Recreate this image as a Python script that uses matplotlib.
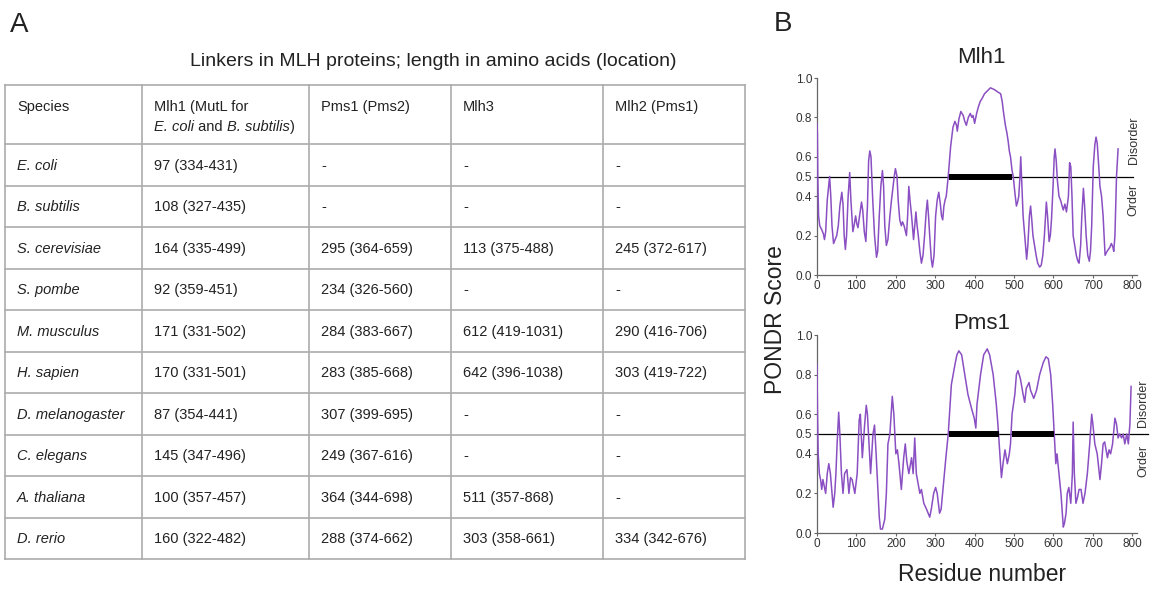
import matplotlib
matplotlib.use("Agg")
import matplotlib.pyplot as plt

plt.rcParams['font.family'] = ['Liberation Sans', 'DejaVu Sans']

# ---------------- data ----------------
table_title = "Linkers in MLH proteins; length in amino acids (location)"
col_headers = ["Species", "Mlh1 (MutL for", "Pms1 (Pms2)", "Mlh3", "Mlh2 (Pms1)"]
col1_header_line2 = [("E. coli", 'italic'), (" and ", 'normal'), ("B. subtilis", 'italic'), (")", 'normal')]
species = ["E. coli", "B. subtilis", "S. cerevisiae", "S. pombe", "M. musculus",
           "H. sapien", "D. melanogaster", "C. elegans", "A. thaliana", "D. rerio"]
mlh1_linker = ["97 (334-431)", "108 (327-435)", "164 (335-499)", "92 (359-451)", "171 (331-502)",
               "170 (331-501)", "87 (354-441)", "145 (347-496)", "100 (357-457)", "160 (322-482)"]
pms1_linker = ["-", "-", "295 (364-659)", "234 (326-560)", "284 (383-667)",
               "283 (385-668)", "307 (399-695)", "249 (367-616)", "364 (344-698)", "288 (374-662)"]
mlh3_linker = ["-", "-", "113 (375-488)", "-", "612 (419-1031)",
               "642 (396-1038)", "-", "-", "511 (357-868)", "303 (358-661)"]
mlh2_linker = ["-", "-", "245 (372-617)", "-", "290 (416-706)",
               "303 (419-722)", "-", "-", "-", "334 (342-676)"]

mlh1_res = [0, 1, 2, 4, 7, 12, 16, 19, 22, 26, 32, 35, 38, 42, 46, 50, 54, 58, 63, 66, 69, 72, 75, 79,
            83, 86, 91, 94, 98, 101, 104, 108, 113, 116, 120, 124, 128, 131, 134, 137, 141, 146, 151,
            154, 158, 162, 166, 169, 172, 176, 180, 185, 189, 192, 196, 199, 203, 206, 210, 214, 217,
            221, 227, 230, 233, 236, 240, 245, 251, 254, 257, 261, 265, 269, 273, 277, 280, 283, 286,
            290, 293, 297, 301, 305, 309, 313, 316, 319, 322, 325, 328, 333, 339, 345, 350, 354, 356,
            360, 365, 371, 375, 379, 384, 389, 393, 396, 400, 405, 409, 414, 420, 425, 430, 435, 440,
            446, 451, 458, 466, 470, 473, 478, 482, 485, 488, 491, 495, 498, 502, 506, 509, 512, 515,
            517, 520, 523, 527, 530, 532, 535, 539, 542, 545, 548, 552, 556, 560, 565, 569, 573, 577,
            580, 582, 585, 589, 592, 595, 599, 602, 604, 607, 610, 614, 618, 622, 625, 629, 633, 638,
            641, 644, 647, 650, 654, 658, 662, 665, 669, 672, 676, 679, 683, 687, 691, 694, 697, 701,
            705, 708, 711, 715, 718, 722, 726, 729, 731, 736, 743, 747, 751, 753, 756, 760, 764]
mlh1_score = [0.77, 0.72, 0.5, 0.3, 0.25, 0.23, 0.21, 0.18, 0.22, 0.38, 0.5, 0.4, 0.25, 0.16, 0.18, 0.2,
              0.25, 0.35, 0.42, 0.36, 0.2, 0.13, 0.2, 0.4, 0.52, 0.38, 0.22, 0.25, 0.3, 0.26, 0.24, 0.3,
              0.37, 0.33, 0.22, 0.17, 0.35, 0.58, 0.63, 0.6, 0.4, 0.2, 0.09, 0.12, 0.3, 0.45, 0.53, 0.45,
              0.25, 0.15, 0.18, 0.3, 0.38, 0.43, 0.5, 0.54, 0.5, 0.38, 0.28, 0.25, 0.27, 0.25, 0.2, 0.3,
              0.45, 0.38, 0.3, 0.18, 0.32, 0.25, 0.2, 0.12, 0.06, 0.1, 0.2, 0.32, 0.38, 0.3, 0.2, 0.08,
              0.04, 0.1, 0.3, 0.38, 0.42, 0.36, 0.3, 0.28, 0.35, 0.38, 0.4, 0.5, 0.65, 0.75, 0.78, 0.76,
              0.73, 0.79, 0.83, 0.81, 0.78, 0.76, 0.8, 0.82, 0.8, 0.81, 0.77, 0.82, 0.85, 0.88, 0.9,
              0.92, 0.93, 0.94, 0.95, 0.945, 0.94, 0.93, 0.92, 0.88, 0.83, 0.76, 0.72, 0.68, 0.63, 0.6,
              0.53, 0.5, 0.42, 0.35, 0.37, 0.4, 0.5, 0.6, 0.45, 0.3, 0.2, 0.12, 0.08, 0.15, 0.3, 0.35,
              0.28, 0.2, 0.15, 0.1, 0.06, 0.04, 0.05, 0.1, 0.2, 0.3, 0.37, 0.3, 0.17, 0.2, 0.28, 0.45,
              0.6, 0.64, 0.58, 0.48, 0.4, 0.38, 0.35, 0.33, 0.36, 0.32, 0.4, 0.57, 0.55, 0.4, 0.2, 0.15,
              0.1, 0.07, 0.06, 0.15, 0.3, 0.44, 0.35, 0.2, 0.1, 0.07, 0.12, 0.25, 0.55, 0.66, 0.7, 0.67,
              0.55, 0.45, 0.4, 0.3, 0.18, 0.1, 0.12, 0.14, 0.16, 0.14, 0.12, 0.2, 0.5, 0.64]

pms1_res = [0, 1, 3, 6, 9, 12, 15, 18, 22, 26, 30, 34, 38, 41, 45, 48, 51, 55, 58, 62, 66, 70, 76, 81,
            85, 89, 96, 102, 107, 110, 115, 121, 125, 128, 132, 136, 142, 146, 150, 155, 158, 161, 166,
            172, 176, 180, 185, 191, 195, 200, 204, 208, 214, 220, 224, 228, 233, 240, 244, 248, 252,
            261, 265, 271, 278, 286, 290, 296, 301, 305, 311, 315, 321, 327, 333, 341, 350, 355, 360,
            367, 375, 383, 392, 399, 403, 406, 415, 423, 432, 438, 447, 455, 459, 464, 468, 472, 477,
            483, 488, 491, 495, 502, 506, 510, 516, 523, 527, 531, 538, 542, 546, 550, 557, 565, 574,
            581, 587, 593, 598, 602, 606, 609, 614, 619, 625, 628, 632, 635, 639, 644, 648, 650, 653,
            657, 661, 665, 670, 675, 680, 686, 692, 697, 700, 705, 711, 718, 722, 726, 730, 737, 741,
            745, 750, 756, 760, 764, 768, 773, 777, 781, 786, 790, 794, 797]
pms1_score = [0.85, 0.65, 0.4, 0.3, 0.27, 0.22, 0.27, 0.24, 0.2, 0.3, 0.35, 0.3, 0.2, 0.13, 0.2, 0.3,
              0.45, 0.61, 0.5, 0.3, 0.2, 0.3, 0.32, 0.2, 0.28, 0.27, 0.2, 0.3, 0.57, 0.6, 0.38, 0.55,
              0.645, 0.6, 0.45, 0.3, 0.5, 0.545, 0.4, 0.2, 0.08, 0.02, 0.02, 0.07, 0.2, 0.45, 0.5, 0.69,
              0.6, 0.4, 0.42, 0.35, 0.22, 0.38, 0.45, 0.36, 0.3, 0.38, 0.3, 0.48, 0.3, 0.2, 0.22, 0.15,
              0.12, 0.08, 0.12, 0.2, 0.23, 0.2, 0.1, 0.12, 0.25, 0.38, 0.5, 0.75, 0.85, 0.9, 0.92, 0.9,
              0.8, 0.7, 0.63, 0.58, 0.53, 0.65, 0.8, 0.9, 0.93, 0.9, 0.8, 0.65, 0.55, 0.4, 0.28, 0.35,
              0.42, 0.35, 0.4, 0.45, 0.6, 0.7, 0.8, 0.82, 0.78, 0.7, 0.66, 0.73, 0.76, 0.72, 0.7, 0.68,
              0.72, 0.8, 0.86, 0.89, 0.88, 0.8, 0.65, 0.5, 0.35, 0.4, 0.3, 0.2, 0.03, 0.05, 0.1, 0.2,
              0.23, 0.15, 0.3, 0.56, 0.3, 0.15, 0.18, 0.22, 0.22, 0.15, 0.2, 0.3, 0.45, 0.6, 0.55, 0.45,
              0.4, 0.27, 0.35, 0.45, 0.46, 0.38, 0.42, 0.4, 0.45, 0.58, 0.55, 0.48, 0.5, 0.48, 0.5, 0.45,
              0.5, 0.45, 0.55, 0.74]

mlh1_disorder_regions = [(334, 495)]
pms1_disorder_regions = [(334, 462), (495, 602)]

yticks = [0.0, 0.2, 0.4, 0.5, 0.6, 0.8, 1.0]
xticks = [0, 100, 200, 300, 400, 500, 600, 700, 800]

# ---------------- layout ----------------
W, H = 1155, 589
fig = plt.figure(figsize=(W / 100, H / 100), dpi=100)
fig.patch.set_facecolor('white')

def fx(x):
    return x / W

def fy(y):
    return 1 - y / H

txt = '#222222'
ax0 = fig.add_axes([0, 0, 1, 1])
ax0.set_xlim(0, W)
ax0.set_ylim(H, 0)
ax0.axis('off')

# panel letters
ax0.text(10, 32, "A", fontsize=20, color=txt, va='baseline', ha='left')
ax0.text(774, 31, "B", fontsize=20, color=txt, va='baseline', ha='left')

# table
ax0.text(433, 66, table_title, fontsize=14, color=txt, ha='center', va='baseline')
col_x = [5, 142, 309, 451, 603, 745]
row_y = [85, 144] + [144 + 41.5 * (i + 1) for i in range(len(species))]
lc = '#ababab'
for y in row_y:
    ax0.plot([col_x[0], col_x[-1]], [y, y], color=lc, lw=1.2, solid_capstyle='projecting')
for x in col_x:
    ax0.plot([x, x], [row_y[0], row_y[-1]], color=lc, lw=1.2, solid_capstyle='projecting')

pad = 12
fs = 10.5
for j, h in enumerate(col_headers):
    ax0.text(col_x[j] + pad, 111, h, fontsize=fs, color=txt, va='baseline', ha='left')

# second header line with mixed italic, chained piece by piece
prev = ax0.text(col_x[1] + pad, 131, col1_header_line2[0][0], fontsize=fs, color=txt,
                style=col1_header_line2[0][1], va='baseline', ha='left')
for s, st in col1_header_line2[1:]:
    prev = ax0.annotate(s, xy=(1, 0), xycoords=prev, fontsize=fs, color=txt, style=st,
                        va='bottom', ha='left')

columns = [mlh1_linker, pms1_linker, mlh3_linker, mlh2_linker]
for i, sp in enumerate(species):
    yc = (row_y[i + 1] + row_y[i + 2]) / 2 + 5
    ax0.text(col_x[0] + pad, yc, sp, fontsize=fs, color=txt, style='italic', va='baseline', ha='left')
    for j, col in enumerate(columns):
        ax0.text(col_x[j + 1] + pad, yc, col[i], fontsize=fs, color=txt, va='baseline', ha='left')

# PONDR plots
purple = '#8a4fc2'
ax_left, ax_right = 817, 1137

def pondr(top, bottom, res, score, regions, line_end, dis_x, dis_y, ord_y):
    ax = fig.add_axes([fx(ax_left), fy(bottom), (ax_right - ax_left) / W, (bottom - top) / H])
    ax.set_xlim(0, 812)
    ax.set_ylim(0, 1.0)
    ax.plot(res, score, color=purple, lw=1.1, zorder=3)
    ax.plot([0, line_end], [0.5, 0.5], color='black', lw=0.9, clip_on=False, zorder=2)
    for a, b in regions:
        ax.plot([a, b], [0.5, 0.5], color='black', lw=4.3, solid_capstyle='butt', zorder=4)
    for s in ['top', 'right']:
        ax.spines[s].set_visible(False)
    for s in ['left', 'bottom']:
        ax.spines[s].set_color('#666666')
        ax.spines[s].set_linewidth(0.9)
    ax.set_xticks(xticks)
    ax.set_yticks(yticks)
    ax.set_yticklabels([f"{v:.1f}" for v in yticks])
    ax.tick_params(axis='both', labelsize=8.5, labelcolor='#333333', color='#666666',
                   length=2, width=0.8, pad=1.5)
    ax.patch.set_alpha(0)
    ax.text(dis_x, dis_y, "Disorder", rotation=90, fontsize=9, color='#333333',
            ha='center', va='center', clip_on=False)
    ax.text(dis_x, ord_y, "Order", rotation=90, fontsize=9, color='#333333',
            ha='center', va='center', clip_on=False)
    return ax

ax1 = pondr(78, 275, mlh1_res, mlh1_score, mlh1_disorder_regions, 802, 804, 0.685, 0.38)
ax2 = pondr(335, 533, pms1_res, pms1_score, pms1_disorder_regions, 840, 827, 0.657, 0.364)

ax0.text(981, 63, "Mlh1", fontsize=16, color=txt, ha='center', va='baseline')
ax0.text(982, 329, "Pms1", fontsize=16, color=txt, ha='center', va='baseline')
ax0.text(982, 581, "Residue number", fontsize=16.5, color=txt, ha='center', va='baseline')
ax0.text(775, 320, "PONDR Score", fontsize=16.5, color=txt, ha='center', va='center', rotation=90)

fig.savefig("out.png", dpi=100, facecolor='white')
